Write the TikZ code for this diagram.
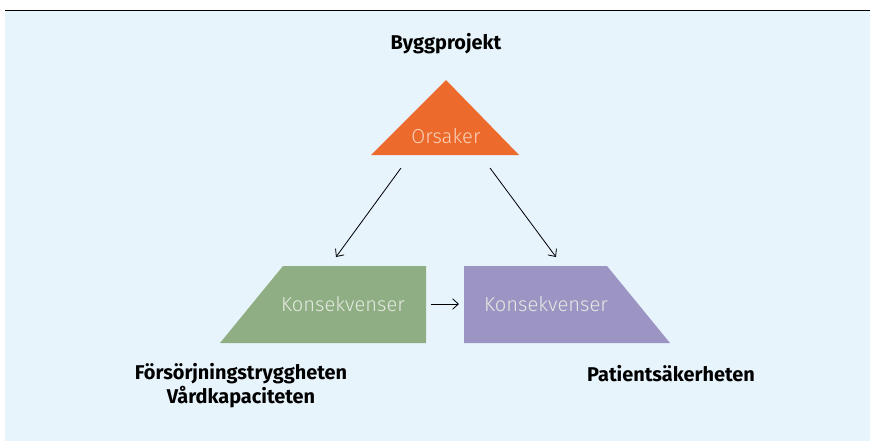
\documentclass[tikz,border=0pt]{standalone}
\usepackage{fontspec}
\setmainfont{Fira Sans}
\newfontfamily\thinfont{Fira Sans Light}
\usetikzlibrary{arrows.meta}
\definecolor{bgblue}{HTML}{E8F4FC}
\definecolor{causeorange}{HTML}{EC6A2B}
\definecolor{greenbox}{HTML}{8FAE84}
\definecolor{purplebox}{HTML}{9C95C4}
\definecolor{peach}{HTML}{F9D2BC}
\definecolor{paletext}{HTML}{E4EAE2}
\tikzset{
  label/.style={font=\bfseries\fontsize{17}{20.5}\selectfont, text=black, align=center, inner sep=0pt},
  intext/.style={font=\thinfont\fontsize{17.2}{20}\selectfont, inner sep=0pt},
  flow/.style={-{Straight Barb[length=5pt,width=9pt]}, line width=0.7pt, black},
}
\begin{document}
\begin{tikzpicture}[x=0.03cm,y=-0.03cm]
  % canvas and header rule
  \useasboundingbox (0,0) rectangle (870,443);
  \fill[white] (0,0) rectangle (870,443);
  \fill[bgblue] (5,11) rectangle (870,441);
  \draw[line width=0.9pt] (5,10.5) -- (870,10.5);

  % shapes
  \fill[causeorange] (446,80) -- (519,155) -- (371,155) -- cycle;
  \fill[greenbox] (283,266) -- (426,266) -- (426,343) -- (220,343) -- cycle;
  \fill[purplebox] (464,266) -- (607,266) -- (670,343) -- (464,343) -- cycle;

  % texts
  \node[label] (top) at (446,44) {Byggprojekt};
  \node[intext, text=peach] (cause) at (446,136) {Orsaker};
  \node[intext, text=paletext] (consA) at (343,304) {Konsekvenser};
  \node[intext, text=paletext] (consB) at (546,304) {Konsekvenser};
  \node[label] (leftlbl) at (241,386) {Försörjningstryggheten\\Vårdkapaciteten};
  \node[label] (rightlbl) at (671,374) {Patientsäkerheten};

  % arrow end points
  \coordinate (a1) at (401,168);
  \coordinate (a2) at (336,257);
  \coordinate (b1) at (490,168);
  \coordinate (b2) at (556,257);
  \coordinate (c1) at (431,304);
  \coordinate (c2) at (459,304);
  \draw[flow] (a1) -- (a2);
  \draw[flow] (b1) -- (b2);
  \draw[flow] (c1) -- (c2);
\end{tikzpicture}
\end{document}
